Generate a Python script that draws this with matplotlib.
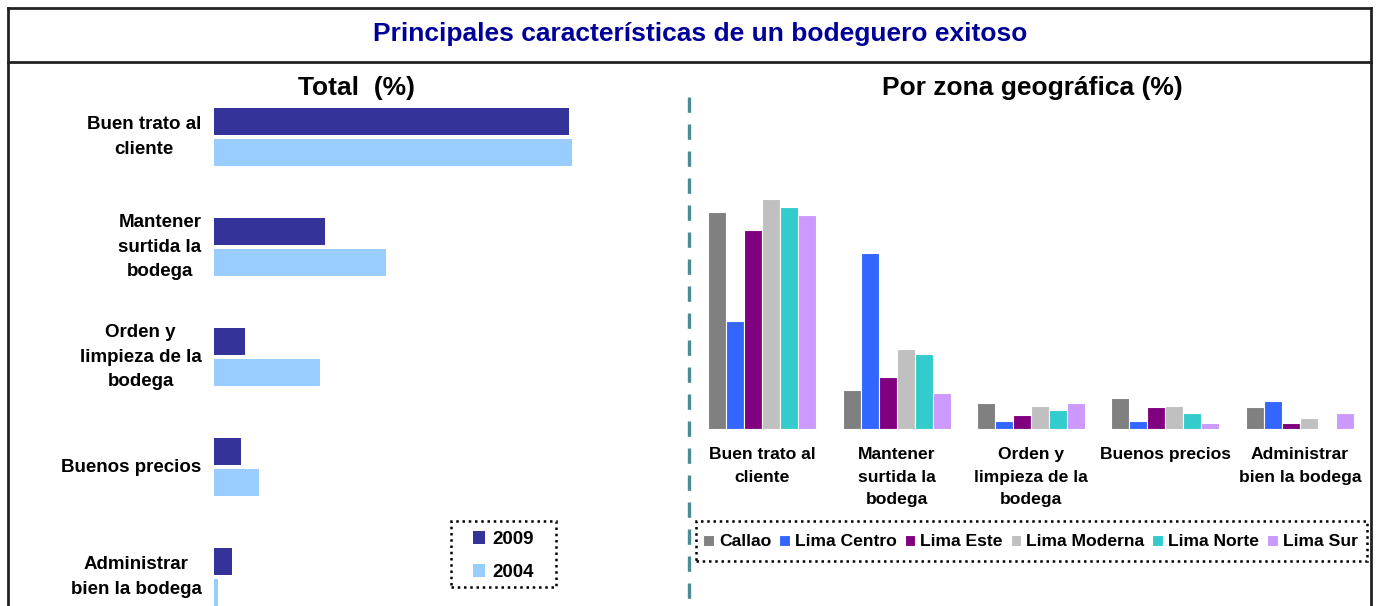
import matplotlib
matplotlib.use('Agg')
from matplotlib import pyplot as plt
from matplotlib.lines import Line2D
from matplotlib.patches import Rectangle
import numpy as np

plt.rcParams.update({
    'font.family': ['Liberation Sans', 'DejaVu Sans'],
    'font.weight': 'bold',
})

# Left panel: total (%)
total_labels = ['Buen trato al\ncliente', 'Mantener\nsurtida la\nbodega',
                'Orden y\nlimpieza de la\nbodega', 'Buenos precios',
                'Administrar\nbien la bodega']
total_2009 = [70.8, 22.2, 6.2, 5.4, 3.6]
total_2004 = [71.4, 34.4, 21.2, 9.0, 0.8]

# Right panel: by zone (%)
zone_labels = ['Buen trato al\ncliente', 'Mantener\nsurtida la\nbodega',
               'Orden y\nlimpieza de la\nbodega', 'Buenos precios',
               'Administrar\nbien la bodega']
zones = ['Callao', 'Lima Centro', 'Lima Este', 'Lima Moderna', 'Lima Norte', 'Lima Sur']
callao = [62.0, 11.1, 7.4, 8.9, 6.3]
lima_centro = [30.9, 50.3, 2.3, 2.3, 8.0]
lima_este = [56.9, 14.9, 4.0, 6.3, 1.7]
lima_moderna = [65.7, 22.9, 6.6, 6.6, 3.1]
lima_norte = [63.4, 21.4, 5.4, 4.6, 0.0]
lima_sur = [61.1, 10.3, 7.4, 1.7, 4.6]
zone_values = [callao, lima_centro, lima_este, lima_moderna, lima_norte, lima_sur]

c2009 = '#333399'
c2004 = '#99CCFF'
zone_colors = ['#808080', '#3366FF', '#800080', '#C0C0C0', '#33CCCC', '#CC99FF']

W, H = 1377, 606
fig = plt.figure(figsize=(W / 100, H / 100), dpi=100)

def fx(px):
    return px / W

def fy(py):
    return 1 - py / H

def dotted_box(x0, y0, x1, y1):
    fig.add_artist(Rectangle((fx(x0), fy(y1)), fx(x1) - fx(x0), (y1 - y0) / H,
                             transform=fig.transFigure, fill=False, edgecolor='black',
                             linewidth=1.8, linestyle=(0, (1, 1.5)), zorder=5))

# frame
for (x0, y0, x1, y1) in [(8, 8, 1371, 8), (8, 62, 1371, 62), (8, 8, 8, 606), (1371, 8, 1371, 606)]:
    fig.add_artist(Line2D([fx(x0), fx(x1)], [fy(y0), fy(y1)], color='#222222', lw=2))

fig.text(fx(700), fy(34), 'Principales características de un bodeguero exitoso',
         ha='center', va='center', fontsize=19, color='#000099', fontweight='bold')
fig.text(fx(357), fy(88), 'Total  (%)', ha='center', va='center', fontsize=19, fontweight='bold')
fig.text(fx(1032), fy(88), 'Por zona geográfica (%)', ha='center', va='center', fontsize=19, fontweight='bold')

# dashed separator
fig.add_artist(Line2D([fx(689), fx(689)], [fy(97), fy(600)], color='#4A8C94', lw=2.4,
                      linestyle=(0, (4.6, 3.5))))

# ---- left panel
ax1 = fig.add_axes([fx(214), fy(632), fx(660) - fx(214), (632 - 82) / H])
y = np.arange(len(total_labels))
bh = 0.245
off = 0.145
ax1.barh(y - off, total_2009, height=bh, color=c2009, label='2009')
ax1.barh(y + off, total_2004, height=bh, color=c2004, label='2004')
ax1.set_ylim(4.5, -0.5)
ax1.set_xlim(0, 89)
ax1.set_yticks(y)
ax1.set_yticklabels(total_labels, fontsize=13.5, fontweight='bold', linespacing=1.55,
                    multialignment='center', va='center')
ax1.tick_params(axis='y', length=0, pad=9)
ax1.set_xticks([])
for s in ax1.spines.values():
    s.set_visible(False)
ax1.legend(loc='center', bbox_to_anchor=(fx(503.5), fy(556)), bbox_transform=fig.transFigure,
           prop={'weight': 'bold', 'size': 13.5}, handlelength=0.65, handleheight=0.65,
           handletextpad=0.4, labelspacing=0.85, borderpad=0.3, borderaxespad=0,
           frameon=False)
dotted_box(451, 521, 556, 587)

# ---- right panel
ax2 = fig.add_axes([fx(695), fy(429), fx(1367) - fx(695), (429 - 100) / H])
x = np.arange(len(zone_labels))
bw = 0.134
for i, (name, vals, col) in enumerate(zip(zones, zone_values, zone_colors)):
    ax2.bar(x + (i - 2.5) * bw, vals, width=bw, color=col, edgecolor='white', linewidth=0.8, label=name)
ax2.set_xlim(-0.5, 4.5)
ax2.set_ylim(0, 94)
ax2.set_xticks(x)
ax2.set_xticklabels(zone_labels, fontsize=12.6, fontweight='bold', linespacing=1.63,
                    va='top', multialignment='center')
ax2.tick_params(axis='x', length=0, pad=13)
ax2.set_yticks([])
for s in ax2.spines.values():
    s.set_visible(False)
ax2.legend(loc='center', bbox_to_anchor=(fx(1030.5), fy(542)), bbox_transform=fig.transFigure,
           ncol=6, prop={'weight': 'bold', 'size': 12.6}, handlelength=0.6, handleheight=0.6,
           handletextpad=0.3, columnspacing=0.45, borderpad=0.2, borderaxespad=0,
           frameon=False)
dotted_box(696, 521, 1367, 561)

fig.savefig('out.png', dpi=100)
